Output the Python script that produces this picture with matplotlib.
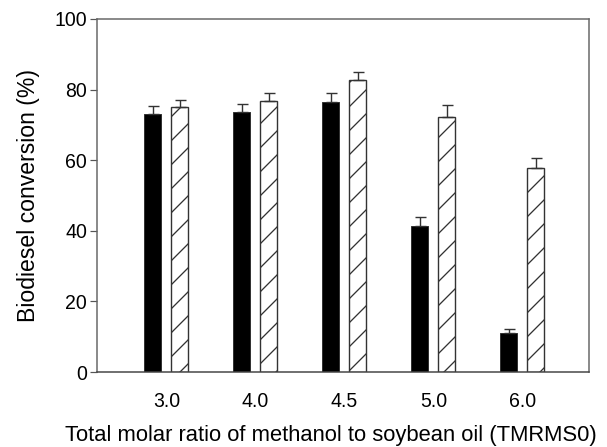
import numpy as np
import matplotlib.pyplot as plt

plt.rcParams['font.family'] = ['Liberation Sans', 'DejaVu Sans']
plt.rcParams['hatch.linewidth'] = 1.3

# Biodiesel conversion for each total methanol/oil molar ratio
ratios = ["3.0", "4.0", "4.5", "5.0", "6.0"]
solid_vals = [73.0, 73.7, 76.6, 41.3, 11.1]
solid_err = [2.3, 2.1, 2.3, 2.5, 1.2]
hatched_vals = [75.0, 76.9, 82.6, 72.3, 57.8]
hatched_err = [2.1, 2.1, 2.4, 3.2, 2.8]

fig = plt.figure(figsize=(607 / 72, 447 / 72), dpi=72)
ax = fig.add_axes([97 / 607, 1 - 372 / 447, 492 / 607, 353 / 447])

x = np.arange(len(ratios))
width = 0.19
offset = 0.152
edge = "#333333"

ax.bar(x - offset, solid_vals, width, color="black", edgecolor=edge, linewidth=1.0,
       yerr=[np.zeros(len(solid_err)), solid_err], capsize=5.5,
       error_kw=dict(ecolor=edge, elinewidth=1.4, capthick=1.4), zorder=2)
ax.bar(x + offset, hatched_vals, width, color="white", edgecolor=edge, linewidth=1.4,
       hatch="/", yerr=[np.zeros(len(hatched_err)), hatched_err], capsize=5.5,
       error_kw=dict(ecolor=edge, elinewidth=1.4, capthick=1.4), zorder=2)

ax.set_xlim(-0.78, 4.75)
ax.set_ylim(0, 100)
ax.set_yticks([0, 20, 40, 60, 80, 100])
ax.set_xticks(x)
ax.set_xticklabels(ratios)
ax.tick_params(axis="x", length=0, pad=20, labelsize=19.5)
ax.tick_params(axis="y", direction="out", length=7, width=1.2, color="#555555", labelsize=19.5, pad=3)

for side in ["left", "right", "top", "bottom"]:
    ax.spines[side].set_color("#666666")
    ax.spines[side].set_linewidth(1.5)
ax.spines["bottom"].set_color("#444444")

ax.set_ylabel("Biodiesel conversion (%)", fontsize=23, labelpad=14)
ax.set_xlabel("Total molar ratio of methanol to soybean oil (TMRMS0)", fontsize=22)
ax.xaxis.set_label_coords(0.476, -0.15)

fig.savefig("out.png", dpi=72)
